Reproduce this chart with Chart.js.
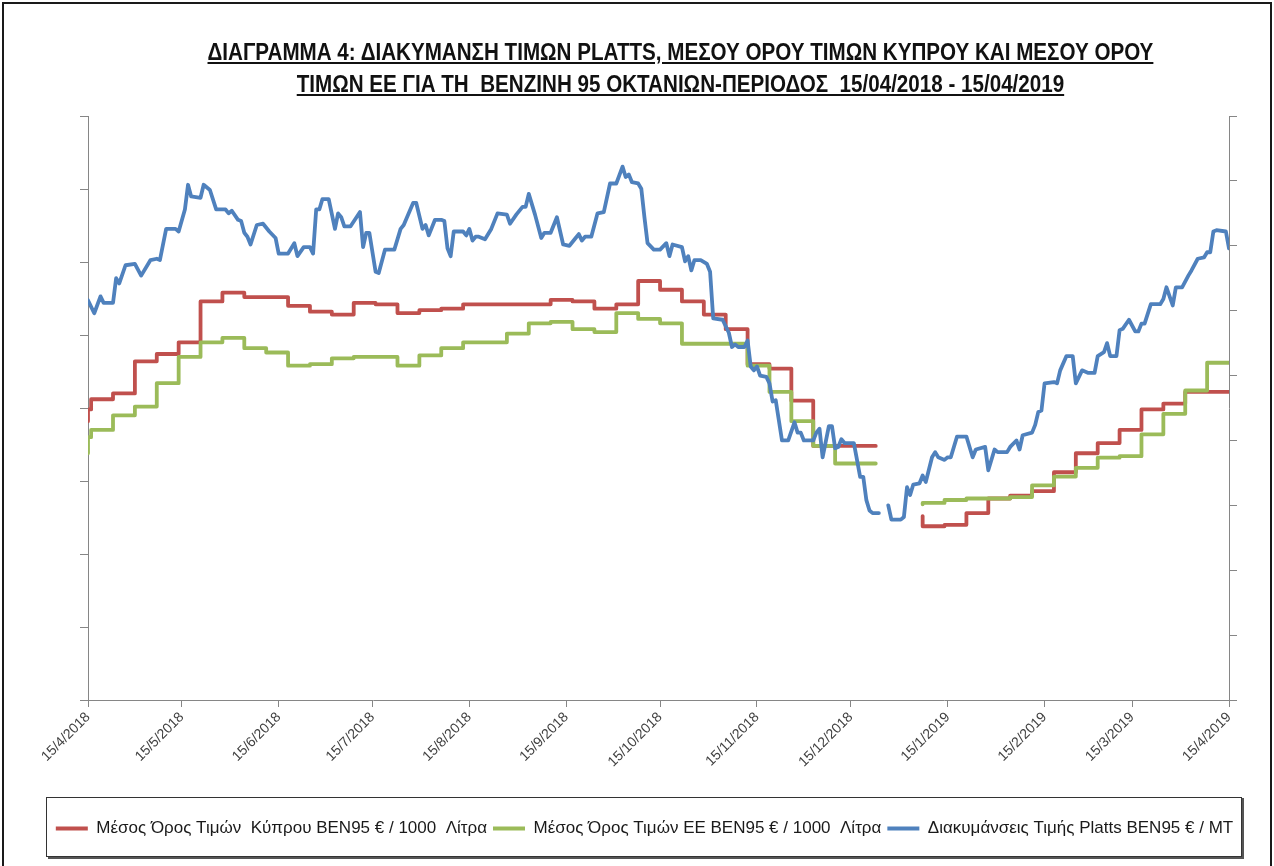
<!DOCTYPE html>
<html>
<head>
<meta charset="utf-8">
<script src="https://cdn.jsdelivr.net/npm/chart.js@4/dist/chart.umd.min.js"></script>
<style>
  html, body { margin: 0; padding: 0; background: #fff; }
  #wrap { position: relative; width: 1274px; height: 866px; overflow: hidden; }
  #frame { position: absolute; left: 2px; top: 2px; width: 1270px; height: 900px; border: 2px solid #1a1a1a; box-sizing: border-box; }
  #title { position: absolute; left: 0; top: 36px; width: 1361px; text-align: center; color: #111;
           font: bold 23px 'Liberation Sans', sans-serif; line-height: 32px; white-space: pre;
           transform: scaleX(0.896); transform-origin: 680px 0; }
  #title span { text-decoration: underline; }
  canvas { position: absolute; left: 0; top: 0; }
</style>
</head>
<body>
<div id="wrap">
  <div id="frame"></div>
  <canvas id="chart" width="1274" height="866"></canvas>
  <div id="title"><span>ΔΙΑΓΡΑΜΜΑ 4: ΔΙΑΚΥΜΑΝΣΗ ΤΙΜΩΝ PLATTS, ΜΕΣΟΥ ΟΡΟΥ ΤΙΜΩΝ ΚΥΠΡΟΥ ΚΑΙ ΜΕΣΟΥ ΟΡΟΥ</span>
<span>ΤΙΜΩΝ ΕΕ ΓΙΑ ΤΗ  ΒΕΝΖΙΝΗ 95 ΟΚΤΑΝΙΩΝ-ΠΕΡΙΟΔΟΣ  15/04/2018 - 15/04/2019</span></div>
</div>
<script>
// x = days since 15/4/2018
const tickLabels = ['15/4/2018', '15/5/2018', '15/6/2018', '15/7/2018', '15/8/2018', '15/9/2018', '15/10/2018',
                    '15/11/2018', '15/12/2018', '15/1/2019', '15/2/2019', '15/3/2019', '15/4/2019'];

const seriesNames = ['Μέσος Όρος Τιμών  Κύπρου ΒΕΝ95 € / 1000  Λίτρα',
                     'Μέσος Όρος Τιμών ΕΕ ΒΕΝ95 € / 1000  Λίτρα',
                     'Διακυμάνσεις Τιμής Platts ΒΕΝ95 € / MT'];

// Cyprus average (weekly steps), € / 1000 L
const cyDays = [0, 1, 8, 15, 22, 29, 36, 43, 50, 64, 71, 78, 85, 92, 99, 106, 113, 120, 148, 155, 162, 169, 176, 183,
                190, 197, 204, 211, 218, 225, 232, 239, 252, 253, 267, 274, 281, 288, 295, 302, 309, 316, 323, 330,
                337, 344, 351, 358, 365];
const cyValues = [591, 599, 606, 610, 632, 637, 645, 673, 679, 676, 670, 666, 664, 672, 671, 665, 667, 668, 671, 674,
                  673, 668, 671, 687, 681, 673, 664, 654, 630, 627, 605, 574, 574, null, 526, 519, 520, 528, 538, 540,
                  543, 556, 569, 576, 585, 599, 603, 611, 611];

// EU average (weekly steps), € / 1000 L
const euDays = [0, 1, 8, 15, 22, 29, 36, 43, 50, 57, 64, 71, 78, 85, 92, 99, 106, 113, 120, 134, 141, 148, 155, 162,
                169, 176, 183, 190, 211, 218, 225, 232, 239, 246, 252, 253, 267, 274, 281, 288, 295, 302, 309, 316,
                323, 330, 337, 344, 351, 358, 365];
const euValues = [569, 580, 585, 595, 601, 617, 635, 645, 648, 641, 638, 629, 630, 634, 635, 635, 629, 636, 641, 645,
                  651, 658, 659, 654, 652, 665, 661, 658, 644, 629, 611, 591, 574, 562, 562, null, 534, 535, 537, 538,
                  538, 539, 547, 553, 559, 566, 567, 582, 596, 612, 631];

// Platts, € / MT
const plattsDays = [0, 2, 4, 5, 8, 9, 10, 12, 15, 17, 20, 22, 23, 25, 28, 29, 31, 32, 33, 36, 37, 39, 41, 44, 45, 46,
  48, 49, 50, 51, 52, 54, 56, 58, 60, 61, 64, 66, 67, 69, 71, 72, 73, 74, 75, 77, 79, 80, 81, 82, 84, 87, 88, 89, 90,
  92, 93, 95, 98, 100, 101, 104, 105, 107, 108, 109, 111, 113, 114, 115, 116, 117, 120, 121, 122, 123, 124, 125, 127,
  129, 131, 134, 135, 137, 139, 140, 141, 143, 145, 146, 148, 150, 152, 154, 156, 157, 158, 159, 161, 163, 165, 167,
  169, 171, 172, 173, 174, 176, 177, 178, 179, 181, 183, 185, 186, 187, 190, 191, 192, 193, 194, 196, 198, 199, 200,
  203, 205, 206, 207, 208, 210, 211, 212, 213, 214, 215, 217, 218, 219, 220, 222, 224, 226, 227, 228, 229, 232, 233,
  234, 235, 237, 238, 239, 240, 241, 242, 245, 246, 247, 248, 249, 250, 251, 253, 254, 256, 257, 260, 261, 262, 263,
  264, 266, 267, 268, 270, 271, 272, 274, 275, 276, 278, 281, 283, 284, 287, 288, 290, 291, 294, 295, 297, 298, 299,
  302, 303, 304, 305, 306, 309, 310, 311, 313, 315, 316, 318, 320, 322, 323, 325, 326, 327, 329, 330, 331, 333, 335,
  336, 337, 338, 340, 343, 344, 345, 346, 347, 348, 350, 352, 353, 355, 357, 358, 359, 360, 361, 364, 365];
const plattsValues = [658, 648, 661, 656, 656, 675, 671, 685, 686, 677, 689, 690, 689, 713, 713, 711, 728, 747, 738,
  737, 747, 743, 728, 728, 725, 727, 720, 719, 710, 707, 701, 716, 717, 711, 706, 694, 694, 702, 692, 699, 699, 694,
  728, 728, 736, 736, 713, 725, 722, 715, 715, 726, 699, 710, 710, 680, 679, 697, 697, 713, 716, 733, 733, 713, 716,
  708, 720, 720, 719, 698, 692, 711, 711, 708, 713, 704, 707, 707, 705, 713, 725, 724, 717, 724, 730, 730, 740, 724,
  706, 710, 710, 722, 701, 700, 706, 709, 704, 707, 707, 725, 726, 748, 748, 761, 753, 755, 749, 748, 744, 722, 702,
  697, 697, 702, 692, 701, 699, 688, 692, 681, 689, 689, 686, 680, 644, 643, 633, 622, 624, 622, 622, 627, 607, 604,
  607, 600, 599, 594, 580, 581, 550, 550, 564, 556, 556, 550, 550, 556, 559, 537, 561, 561, 544, 545, 551, 548, 548,
  535, 522, 522, 504, 496, 494, 494, null, 500, 489, 489, 491, 514, 508, 516, 517, 523, 518, 537, 541, 537, 535, 537,
  537, 553, 553, 537, 543, 545, 527, 543, 541, 541, 545, 550, 543, 554, 556, 562, 572, 573, 594, 595, 594, 604, 615,
  615, 594, 604, 602, 602, 615, 618, 625, 615, 615, 635, 636, 643, 634, 634, 640, 640, 655, 655, 659, 668, 661, 654,
  668, 668, 677, 681, 690, 691, 695, 695, 711, 712, 711, 698];

const leftMin = 400, leftMax = 800, rightMin = 350, rightMax = 800, yStep = 50;

const FONT = "'Liberation Sans', sans-serif";
const AXIS = '#868686';

const tickDays = tickLabels.map(s => {
  const [d, m, y] = s.split('/').map(Number);
  return Math.round((Date.UTC(y, m - 1, d) - Date.UTC(2018, 3, 15)) / 864e5);
});

function points(days, values) {
  return days.map((d, i) => ({ x: d, y: values[i] }));
}

// legend frame drawn around the legend
const legendFrame = {
  id: 'legendFrame',
  afterDraw(chart) {
    const ctx = chart.ctx;
    ctx.save();
    ctx.fillStyle = '#555';
    ctx.fillRect(48, 856, 1196, 3);
    ctx.fillRect(1241, 798, 3, 61);
    ctx.strokeStyle = '#333';
    ctx.lineWidth = 1;
    ctx.strokeRect(46.5, 797.5, 1195, 59);
    ctx.restore();
  }
};

new Chart(document.getElementById('chart'), {
  type: 'line',
  data: {
    datasets: [
      { label: seriesNames[0], data: points(cyDays, cyValues), yAxisID: 'yL', stepped: 'after',
        borderColor: '#C0504D', backgroundColor: '#C0504D', order: 3 },
      { label: seriesNames[1], data: points(euDays, euValues), yAxisID: 'yL', stepped: 'after',
        borderColor: '#9BBB59', backgroundColor: '#9BBB59', order: 2 },
      { label: seriesNames[2], data: points(plattsDays, plattsValues), yAxisID: 'yR',
        borderColor: '#4F81BD', backgroundColor: '#4F81BD', order: 1 }
    ]
  },
  options: {
    responsive: false,
    animation: false,
    spanGaps: false,
    layout: { padding: { left: 25, right: 10, top: 116, bottom: 19 } },
    elements: {
      point: { radius: 0, hoverRadius: 0 },
      line: { borderWidth: 3.8, tension: 0, borderJoinStyle: 'round', borderCapStyle: 'round', fill: false }
    },
    plugins: {
      tooltip: { enabled: false },
      legend: {
        position: 'bottom',
        labels: {
          color: '#1a1a1a',
          font: { family: FONT, size: 17 },
          boxWidth: 32,
          boxHeight: 4,
          padding: 6,
          sort: (a, b) => a.datasetIndex - b.datasetIndex,
          generateLabels(chart) {
            const items = Chart.defaults.plugins.legend.labels.generateLabels(chart);
            items.forEach(it => { it.lineWidth = 0; });
            return items;
          }
        }
      }
    },
    scales: {
      x: {
        type: 'linear',
        min: 0,
        max: 365,
        afterBuildTicks: scale => { scale.ticks = tickDays.map(v => ({ value: v })); },
        afterFit: scale => { scale.height = 114; },
        grid: { drawOnChartArea: false, drawTicks: true, tickLength: 7, color: AXIS },
        border: { color: AXIS, width: 1 },
        ticks: {
          autoSkip: false, maxRotation: 45, minRotation: 45, padding: 2,
          color: '#404040', font: { family: FONT, size: 14 },
          callback: (v, i) => tickLabels[i]
        }
      },
      yL: {
        type: 'linear', position: 'left', min: leftMin, max: leftMax,
        afterFit: scale => { scale.width = 63; },
        ticks: { stepSize: yStep, display: false },
        grid: { drawOnChartArea: false, drawTicks: true, tickLength: 8, color: AXIS },
        border: { color: AXIS, width: 1 }
      },
      yR: {
        type: 'linear', position: 'right', min: rightMin, max: rightMax,
        afterFit: scale => { scale.width = 35; },
        ticks: { stepSize: yStep, display: false },
        grid: { drawOnChartArea: false, drawTicks: true, tickLength: 8, color: AXIS },
        border: { color: AXIS, width: 1 }
      }
    }
  },
  plugins: [legendFrame]
});
</script>
</body>
</html>
